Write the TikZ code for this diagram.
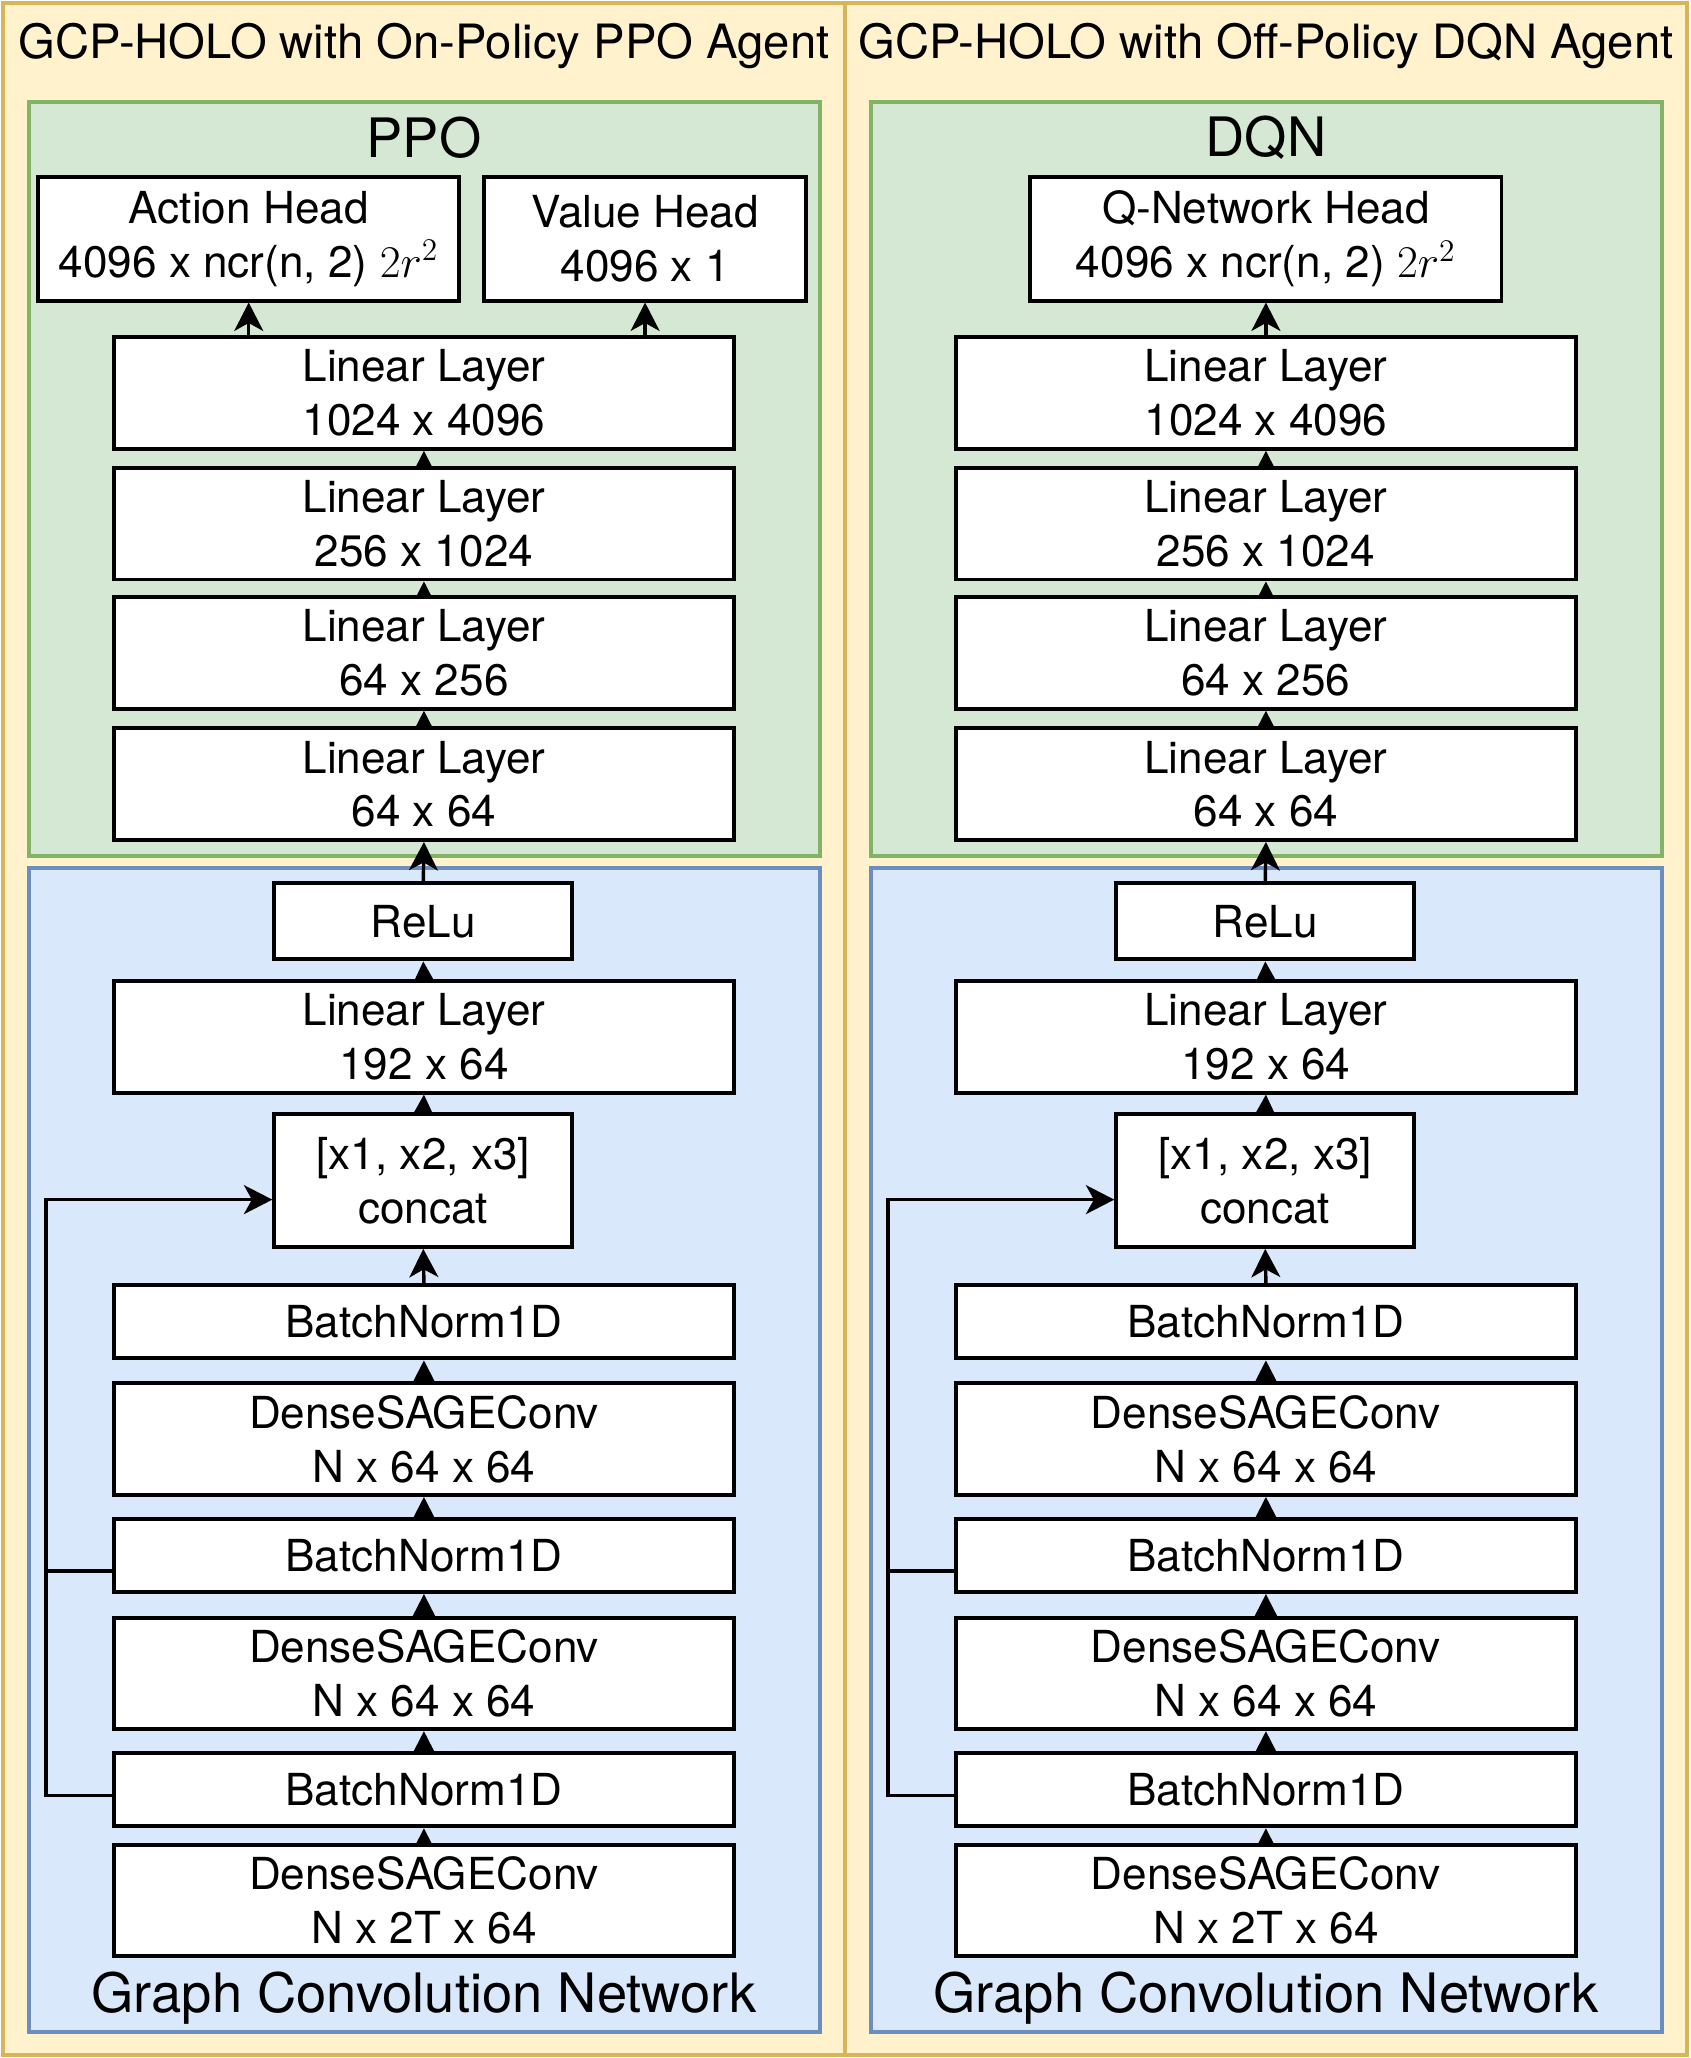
\documentclass[tikz,border=0pt]{standalone}
\usepackage{fontspec}
\setmainfont{TeX Gyre Heros}
\usetikzlibrary{arrows.meta, positioning}

\definecolor{panelfill}{HTML}{FFF2CC}
\definecolor{paneldraw}{HTML}{D6B656}
\definecolor{rlfill}{HTML}{D5E8D4}
\definecolor{rldraw}{HTML}{82B366}
\definecolor{gcnfill}{HTML}{DAE8FC}
\definecolor{gcndraw}{HTML}{6C8EBF}

\pgfdeclarelayer{panels}
\pgfdeclarelayer{edges}
\pgfsetlayers{panels,edges,main}

\begin{document}
\begin{tikzpicture}[
    x=0.5pt, y=-0.5pt,
    layer_style/.style={draw, fill=white, line width=1.5pt, align=center, inner sep=0pt, font=\fontsize{16.8}{20.5}\selectfont},
    wide_layer/.style={layer_style, minimum width=236pt, minimum height=42.5pt},
    thin_layer/.style={layer_style, minimum width=236pt, minimum height=28pt},
    small_layer/.style={layer_style, minimum width=113.5pt},
    panel_style/.style={draw=paneldraw, fill=panelfill, line width=1.5pt},
    rl_style/.style={draw=rldraw, fill=rlfill, line width=1.5pt},
    gcn_style/.style={draw=gcndraw, fill=gcnfill, line width=1.5pt},
    title_style/.style={font=\fontsize{18}{22}\selectfont},
    block_title_style/.style={font=\fontsize{20.7}{25}\selectfont},
    flow_arrow/.style={-{Stealth[length=10.8pt, width=11pt, inset=3pt]}, line width=1.3pt},
    skip_line/.style={line width=1.3pt}
]
\newcommand{\headmath}{{\fontsize{17.5}{20.5}\selectfont$2r^2$}}
\useasboundingbox (0,0) rectangle (1288,1568);

% LEFT PANEL - ON-POLICY PPO AGENT
\begin{scope}
    \begin{pgfonlayer}{panels}
        \draw[panel_style] (2,2) rectangle (644,1566);
        \draw[rl_style] (22,78) rectangle (625,652);
        \draw[gcn_style] (22,661) rectangle (625,1548);
    \end{pgfonlayer}
    \node[title_style] (p_title) at (323,35) {GCP-HOLO with On-Policy PPO Agent};

    % PPO block
    \node[block_title_style] (p_rl_title) at (323,105) {PPO};
    \node[layer_style, minimum width=160.5pt, minimum height=47pt] (p_act) at (189.5,182) {Action Head\\4096 x ncr(n, 2) \headmath};
    \node[layer_style, minimum width=122.5pt, minimum height=47pt] (p_val) at (491.5,182) {Value Head\\4096 x 1};
    \node[wide_layer] (p_l4) at (323,299.5) {Linear Layer\\1024 x 4096};
    \node[wide_layer] (p_l3) at (323,399) {Linear Layer\\256 x 1024};
    \node[wide_layer] (p_l2) at (323,497.5) {Linear Layer\\64 x 256};
    \node[wide_layer] (p_l1) at (323,597.5) {Linear Layer\\64 x 64};

    % GCN block
    \node[block_title_style] (p_gcn_title) at (323,1522) {Graph Convolution Network};
    \node[small_layer, minimum height=29pt] (p_relu) at (322.5,702) {ReLu};
    \node[wide_layer] (p_lin) at (323,790) {Linear Layer\\192 x 64};
    \node[small_layer, minimum height=50.5pt] (p_cat) at (322.5,899.5) {[x1, x2, x3]\\concat};
    \node[thin_layer] (p_bn3) at (323,1007) {BatchNorm1D};
    \node[wide_layer] (p_s3) at (323,1096.5) {DenseSAGEConv\\N x 64 x 64};
    \node[thin_layer] (p_bn2) at (323,1185) {BatchNorm1D};
    \node[wide_layer] (p_s2) at (323,1275) {DenseSAGEConv\\N x 64 x 64};
    \node[thin_layer] (p_bn1) at (323,1363.5) {BatchNorm1D};
    \node[wide_layer] (p_s1) at (323,1448) {DenseSAGEConv\\N x 2T x 64};
    \coordinate (p_rail) at (35,914);

    \begin{pgfonlayer}{edges}
        % Forward edges
        \draw[flow_arrow] (p_act.south |- p_l4.north) -- (p_act.south);
        \draw[flow_arrow] (p_val.south |- p_l4.north) -- (p_val.south);
        \draw[flow_arrow] (p_l3.north) -- (p_l4.south);
        \draw[flow_arrow] (p_l2.north) -- (p_l3.south);
        \draw[flow_arrow] (p_l1.north) -- (p_l2.south);
        \draw[flow_arrow] (p_relu.north) -- (p_l1.south);
        \draw[flow_arrow] (p_lin.north) -- (p_relu.south);
        \draw[flow_arrow] (p_cat.north) -- (p_lin.south);
        \draw[flow_arrow] (p_bn3.north) -- (p_cat.south);
        \draw[flow_arrow] (p_s3.north) -- (p_bn3.south);
        \draw[flow_arrow] (p_bn2.north) -- (p_s3.south);
        \draw[flow_arrow] (p_s2.north) -- (p_bn2.south);
        \draw[flow_arrow] (p_bn1.north) -- (p_s2.south);
        \draw[flow_arrow] (p_s1.north) -- (p_bn1.south);

        % Skip connections into concat
        \draw[flow_arrow] ([yshift=-2.25pt]p_bn1.west) -| (p_rail) -- (p_rail -| p_cat.west);
        \draw[skip_line] ([yshift=-6pt]p_bn2.west) -- ([yshift=-6pt]p_bn2.west -| p_rail);
    \end{pgfonlayer}
\end{scope}

% RIGHT PANEL - OFF-POLICY DQN AGENT
\begin{scope}[xshift=320.75pt]
    \begin{pgfonlayer}{panels}
        \draw[panel_style] (2,2) rectangle (644,1566);
        \draw[rl_style] (22,78) rectangle (625,652);
        \draw[gcn_style] (22,661) rectangle (625,1548);
    \end{pgfonlayer}
    \node[title_style] (d_title) at (323,35) {GCP-HOLO with Off-Policy DQN Agent};

    % DQN block
    \node[block_title_style] (d_rl_title) at (323,105) {DQN};
    \node[layer_style, minimum width=179.5pt, minimum height=47pt] (d_q) at (323,182) {Q-Network Head\\4096 x ncr(n, 2) \headmath};
    \node[wide_layer] (d_l4) at (323,299.5) {Linear Layer\\1024 x 4096};
    \node[wide_layer] (d_l3) at (323,399) {Linear Layer\\256 x 1024};
    \node[wide_layer] (d_l2) at (323,497.5) {Linear Layer\\64 x 256};
    \node[wide_layer] (d_l1) at (323,597.5) {Linear Layer\\64 x 64};

    % GCN block
    \node[block_title_style] (d_gcn_title) at (323,1522) {Graph Convolution Network};
    \node[small_layer, minimum height=29pt] (d_relu) at (322.5,702) {ReLu};
    \node[wide_layer] (d_lin) at (323,790) {Linear Layer\\192 x 64};
    \node[small_layer, minimum height=50.5pt] (d_cat) at (322.5,899.5) {[x1, x2, x3]\\concat};
    \node[thin_layer] (d_bn3) at (323,1007) {BatchNorm1D};
    \node[wide_layer] (d_s3) at (323,1096.5) {DenseSAGEConv\\N x 64 x 64};
    \node[thin_layer] (d_bn2) at (323,1185) {BatchNorm1D};
    \node[wide_layer] (d_s2) at (323,1275) {DenseSAGEConv\\N x 64 x 64};
    \node[thin_layer] (d_bn1) at (323,1363.5) {BatchNorm1D};
    \node[wide_layer] (d_s1) at (323,1448) {DenseSAGEConv\\N x 2T x 64};
    \coordinate (d_rail) at (35,914);

    \begin{pgfonlayer}{edges}
        % Forward edges
        \draw[flow_arrow] (d_l4.north) -- (d_q.south);
        \draw[flow_arrow] (d_l3.north) -- (d_l4.south);
        \draw[flow_arrow] (d_l2.north) -- (d_l3.south);
        \draw[flow_arrow] (d_l1.north) -- (d_l2.south);
        \draw[flow_arrow] (d_relu.north) -- (d_l1.south);
        \draw[flow_arrow] (d_lin.north) -- (d_relu.south);
        \draw[flow_arrow] (d_cat.north) -- (d_lin.south);
        \draw[flow_arrow] (d_bn3.north) -- (d_cat.south);
        \draw[flow_arrow] (d_s3.north) -- (d_bn3.south);
        \draw[flow_arrow] (d_bn2.north) -- (d_s3.south);
        \draw[flow_arrow] (d_s2.north) -- (d_bn2.south);
        \draw[flow_arrow] (d_bn1.north) -- (d_s2.south);
        \draw[flow_arrow] (d_s1.north) -- (d_bn1.south);

        % Skip connections into concat
        \draw[flow_arrow] ([yshift=-2.25pt]d_bn1.west) -| (d_rail) -- (d_rail -| d_cat.west);
        \draw[skip_line] ([yshift=-6pt]d_bn2.west) -- ([yshift=-6pt]d_bn2.west -| d_rail);
    \end{pgfonlayer}
\end{scope}

\end{tikzpicture}
\end{document}
